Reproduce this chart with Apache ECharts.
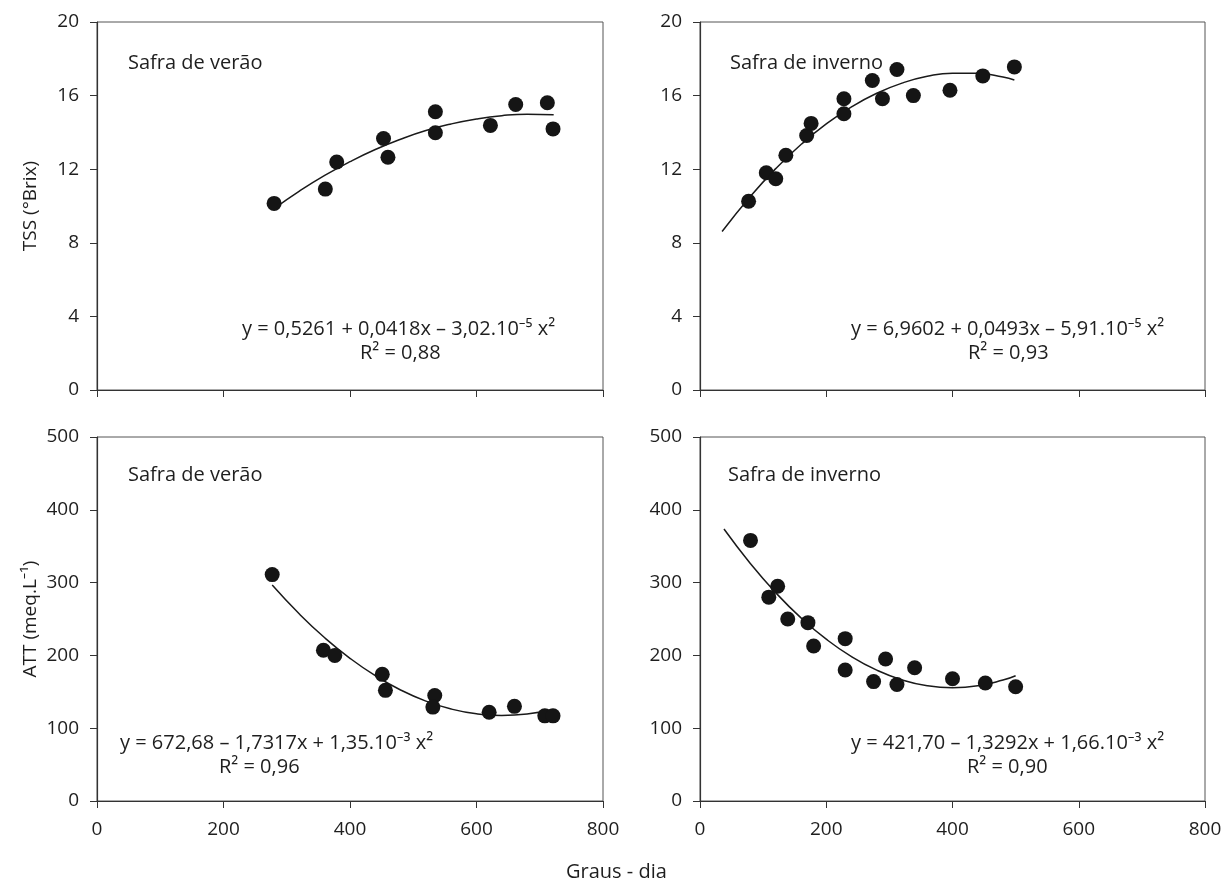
<!DOCTYPE html>
<html>
<head>
<meta charset="utf-8">
<script src="https://cdn.jsdelivr.net/npm/echarts@6/dist/echarts.min.js"></script>
<style>
  html, body { margin: 0; padding: 0; background: #fff; }
  #chart { width: 1227px; height: 886px; }
</style>
</head>
<body>
<div id="chart"></div>
<script>
// TSS - safra de verão (pontos)
var tssVeraoX = [280, 361, 379, 453, 460, 535, 535, 622, 662, 712, 721];
var tssVeraoY = [10.14, 10.92, 12.39, 13.67, 12.65, 15.12, 13.98, 14.38, 15.52, 15.61, 14.19];
// TSS - safra de inverno
var tssInvernoX = [77, 105, 120, 136, 169, 176, 228, 228, 273, 289, 312, 338, 396, 448, 498];
var tssInvernoY = [10.26, 11.81, 11.48, 12.76, 13.83, 14.49, 15.83, 15.01, 16.82, 15.83, 17.42, 16.0, 16.29, 17.07, 17.56];
// ATT - safra de verão
var attVeraoX = [277, 358, 376, 451, 456, 534, 531, 620, 660, 708, 721];
var attVeraoY = [311, 207, 200, 174, 152, 145, 129, 122, 130, 117, 117];
// ATT - safra de inverno
var attInvernoX = [80, 109, 123, 139, 171, 180, 230, 230, 275, 294, 312, 340, 400, 452, 500];
var attInvernoY = [358, 280, 295, 250, 245, 213, 223, 180, 164, 195, 160, 183, 168, 162, 157];

// curvas ajustadas
var fitTssVeraoX = [280, 320, 360, 400, 440, 480, 520, 560, 600, 640, 680, 722];
var fitTssVeraoY = [9.86, 10.81, 11.66, 12.41, 13.07, 13.63, 14.10, 14.46, 14.73, 14.91, 14.99, 14.96];
var fitTssInvernoX = [35, 80, 120, 160, 200, 240, 280, 320, 360, 400, 440, 480, 498];
var fitTssInvernoY = [8.61, 10.53, 12.03, 13.34, 14.46, 15.39, 16.13, 16.68, 17.05, 17.22, 17.21, 17.01, 16.85];
var fitAttVeraoX = [277, 320, 360, 400, 440, 480, 520, 560, 600, 640, 680, 720];
var fitAttVeraoY = [296.6, 256.8, 224.2, 196.0, 172.1, 152.5, 137.2, 126.3, 119.7, 117.4, 119.4, 125.7];
var fitAttInvernoX = [38, 80, 120, 160, 200, 240, 280, 320, 360, 400, 440, 480, 500];
var fitAttInvernoY = [373.6, 326.0, 286.1, 251.5, 222.3, 198.3, 179.7, 166.3, 158.3, 155.6, 158.2, 166.1, 172.1];

var xTicks = [0, 200, 400, 600, 800];
var tssTicks = [0, 4, 8, 12, 16, 20];
var attTicks = [0, 100, 200, 300, 400, 500];

function pairs(xs, ys) {
  var out = [];
  for (var i = 0; i < xs.length; i++) out.push([xs[i], ys[i]]);
  return out;
}

var font = 'Open Sans, Noto Sans, sans-serif';
var txt = '#1e1e1e';

function xAxis(idx, showLabel) {
  return {
    type: 'value', gridIndex: idx, min: xTicks[0], max: xTicks[xTicks.length - 1], interval: 200,
    axisLine: { show: true, onZero: false, lineStyle: { color: '#333', width: 1.2 } },
    axisTick: { show: true, inside: false, length: 7, lineStyle: { color: '#333' } },
    axisLabel: { show: showLabel, color: txt, fontSize: 19, fontFamily: font, margin: 19 },
    splitLine: { show: false }
  };
}
function yAxis(idx, ticks, interval, name) {
  return {
    type: 'value', gridIndex: idx, min: ticks[0], max: ticks[ticks.length - 1], interval: interval,
    name: name, nameLocation: 'middle', nameGap: 57,
    nameTextStyle: { color: txt, fontSize: 19, fontFamily: font },
    axisLine: { show: true, lineStyle: { color: '#333', width: 1.2 } },
    axisTick: { show: true, inside: false, length: 7, lineStyle: { color: '#333' } },
    axisLabel: { color: txt, fontSize: 19, fontFamily: font, margin: 18 },
    splitLine: { show: false }
  };
}
function scatter(idx, xs, ys) {
  return {
    type: 'scatter', xAxisIndex: idx, yAxisIndex: idx, data: pairs(xs, ys),
    symbolSize: 15, itemStyle: { color: '#151515', opacity: 1 }, z: 3
  };
}
function fit(idx, xs, ys) {
  return {
    type: 'line', xAxisIndex: idx, yAxisIndex: idx, data: pairs(xs, ys),
    smooth: true, showSymbol: false, lineStyle: { color: '#1a1a1a', width: 1.5 }, z: 2
  };
}
function label(x, y, text) {
  return {
    type: 'text', left: x, top: y,
    style: { text: text, fill: txt, fontSize: 20, fontFamily: font }
  };
}

var chart = echarts.init(document.getElementById('chart'));
var option = {
  animation: false,
  grid: [
    { left: 97, top: 22, width: 506, height: 368, show: true, borderColor: '#555', borderWidth: 1 },
    { left: 700, top: 22, width: 505, height: 368, show: true, borderColor: '#555', borderWidth: 1 },
    { left: 97, top: 437, width: 506, height: 364, show: true, borderColor: '#555', borderWidth: 1 },
    { left: 700, top: 437, width: 505, height: 364, show: true, borderColor: '#555', borderWidth: 1 }
  ],
  xAxis: [xAxis(0, false), xAxis(1, false), xAxis(2, true), xAxis(3, true)],
  yAxis: [
    yAxis(0, tssTicks, 4, 'TSS (°Brix)'),
    yAxis(1, tssTicks, 4, ''),
    yAxis(2, attTicks, 100, 'ATT (meq.L⁻¹)'),
    yAxis(3, attTicks, 100, '')
  ],
  series: [
    fit(0, fitTssVeraoX, fitTssVeraoY), scatter(0, tssVeraoX, tssVeraoY),
    fit(1, fitTssInvernoX, fitTssInvernoY), scatter(1, tssInvernoX, tssInvernoY),
    fit(2, fitAttVeraoX, fitAttVeraoY), scatter(2, attVeraoX, attVeraoY),
    fit(3, fitAttInvernoX, fitAttInvernoY), scatter(3, attInvernoX, attInvernoY)
  ],
  graphic: [
    label(128, 53, 'Safra de verão'),
    label(730, 53, 'Safra de inverno'),
    label(128, 465, 'Safra de verão'),
    label(728, 465, 'Safra de inverno'),
    label(242, 319, 'y = 0,5261 + 0,0418x – 3,02.10⁻⁵ x²'),
    label(360, 343, 'R² = 0,88'),
    label(851, 319, 'y = 6,9602 + 0,0493x – 5,91.10⁻⁵ x²'),
    label(968, 343, 'R² = 0,93'),
    label(120, 733, 'y = 672,68 – 1,7317x + 1,35.10⁻³ x²'),
    label(219, 757, 'R² = 0,96'),
    label(851, 733, 'y = 421,70 – 1,3292x + 1,66.10⁻³ x²'),
    label(967, 757, 'R² = 0,90'),
    label(566, 862, 'Graus - dia')
  ]
};
chart.setOption(option);
</script>
</body>
</html>
